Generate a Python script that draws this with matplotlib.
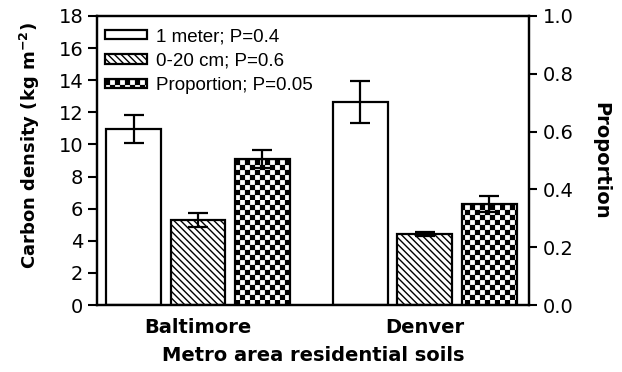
import numpy as np
import matplotlib
matplotlib.use("Agg")
import matplotlib.pyplot as plt
import matplotlib.hatch as mhatch
from matplotlib.path import Path as MPath

# ============================================================
# DATA
# ============================================================
cities = ["Baltimore", "Denver"]
carbon_1m = [10.96, 12.64]
carbon_1m_err = [0.87, 1.31]
carbon_020 = [5.3, 4.42]
carbon_020_err = [0.42, 0.12]
proportion = [0.505, 0.35]
proportion_err = [0.03, 0.028]

labels = ["1 meter; P=0.4", "0-20 cm; P=0.6", "Proportion; P=0.05"]


# checkerboard hatch (registered on '*')
class CheckerHatch(mhatch.HatchPatternBase):
    def __init__(self, hatch, density):
        self.n = 20 if hatch.count("*") > 0 else 0
        self.num_vertices = 5 * (self.n * self.n // 2)

    def set_vertices_and_codes(self, vertices, codes):
        n = self.n
        s = 1.0 / n
        shrink = 0.12 * s
        k = 0
        for i in range(n):
            for j in range(n):
                if (i + j) % 2:
                    continue
                x0, y0 = i * s + shrink, j * s + shrink
                x1, y1 = (i + 1) * s - shrink, (j + 1) * s - shrink
                vertices[k:k + 5] = [(x0, y0), (x1, y0), (x1, y1), (x0, y1), (x0, y0)]
                codes[k:k + 5] = [MPath.MOVETO, MPath.LINETO, MPath.LINETO,
                                  MPath.LINETO, MPath.CLOSEPOLY]
                k += 5


mhatch._hatch_types = [h for h in mhatch._hatch_types if h is not mhatch.Stars]
mhatch._hatch_types.append(CheckerHatch)

plt.rcParams["font.family"] = ["DejaVu Sans"]
plt.rcParams["hatch.linewidth"] = 1.0
plt.rcParams["mathtext.fontset"] = "dejavusans"

# ============================================================
# PLOT
# ============================================================
fig = plt.figure(figsize=(6.22, 3.72), dpi=100)
ax = fig.add_axes([0.156, 0.180, 0.694, 0.777])
ax2 = ax.twinx()

x = np.arange(len(cities))
w = 0.242
step = 0.284

err_kw = dict(ecolor="black", elinewidth=1.6, capsize=7, capthick=1.6)

b1 = ax.bar(x - step, carbon_1m, w, color="white", edgecolor="black",
            linewidth=1.6, label=labels[0], zorder=2)
ax.errorbar(x - step, carbon_1m, yerr=carbon_1m_err, fmt="none", zorder=3, **err_kw)

b2 = ax.bar(x, carbon_020, w, color="white", edgecolor="black", hatch="\\\\\\\\\\",
            linewidth=1.6, label=labels[1], zorder=2)
ax.errorbar(x, carbon_020, yerr=carbon_020_err, fmt="none", zorder=3, **err_kw)

b3 = ax2.bar(x + step, proportion, w, color="white", edgecolor="black", hatch="*",
             linewidth=1.6, label=labels[2], zorder=2)
ax2.errorbar(x + step, proportion, yerr=proportion_err, fmt="none", zorder=3, **err_kw)

ax.set_xlim(-0.445, 1.458)
ax.set_ylim(0, 18)
ax.set_yticks(np.arange(0, 19, 2))
ax2.set_ylim(0, 1.0)
ax2.set_yticks(np.arange(0, 1.01, 0.2))
ax2.set_yticklabels([f"{v:.1f}" for v in np.arange(0, 1.01, 0.2)])

ax.set_xticks(x)
ax.set_xticklabels(cities, fontsize=14, fontweight="bold")
ax.tick_params(axis="x", length=0, pad=9)
ax.tick_params(axis="y", length=6.5, width=1.5, labelsize=14, pad=3.5)
ax2.tick_params(axis="y", length=6, width=1.5, labelsize=14, pad=4)

for a in (ax, ax2):
    for sp in a.spines.values():
        sp.set_linewidth(1.6)

ax.set_ylabel("Carbon density (kg m$^{\\mathbf{-2}}$)", fontsize=13, fontweight="bold")
ax.yaxis.set_label_coords(-0.127, 0.55)
ax2.set_ylabel("Proportion", fontsize=14, fontweight="bold", rotation=270, va="bottom",
               labelpad=13)
ax.set_xlabel("Metro area residential soils", fontsize=14, fontweight="bold", labelpad=7)

ax.legend([b1, b2, b3], labels, loc="upper left", frameon=False,
          prop={"family": "Liberation Sans", "size": 13.5},
          handlelength=2.25, handleheight=0.4, handletextpad=0.45, labelspacing=0.4,
          borderaxespad=0.25, bbox_to_anchor=(-0.01, 1.0))

fig.savefig("out.png", dpi=100)
